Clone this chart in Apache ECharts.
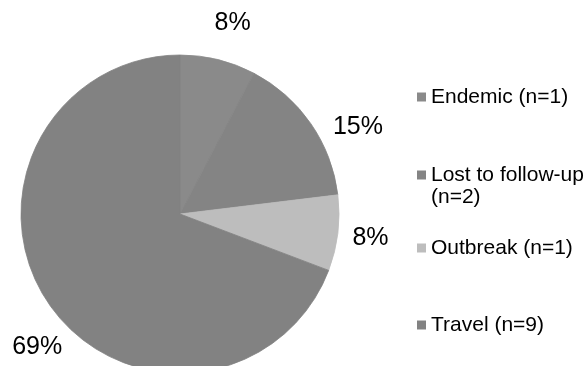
<!DOCTYPE html>
<html>
<head>
<meta charset="utf-8">
<script src="https://cdn.jsdelivr.net/npm/echarts@6/dist/echarts.min.js"></script>
<style>
  html, body { margin: 0; padding: 0; background: #fff; }
  #chart { width: 587px; height: 366px; }
</style>
</head>
<body>
<div id="chart"></div>
<script>
// Source of each case
const categories = ['Endemic', 'Lost to follow-up', 'Outbreak', 'Travel'];
const counts = [1, 2, 1, 9];
const sliceColors = ['#8a8a8a', '#848484', '#bdbdbd', '#828282'];

// Where each percentage label sits: angle clockwise from 12 o'clock (deg), distance from centre (px)
const labelAnchors = [[15.4, 198], [64, 198], [97.2, 192], [227.1, 195]];
// Vertical position of each legend entry (px from top)
const legendTops = [86, 164, 237, 314];

const CX = 180, CY = 214, R = 159;
const FONT = 'Liberation Sans, Arial, sans-serif';
const WRAPPED = 'Lost to follow-up';

const chart = echarts.init(document.getElementById('chart'), null, { renderer: 'canvas' });

const legendText = (name) => {
  const i = categories.indexOf(name);
  const sep = name === WRAPPED ? '\n' : ' ';
  return name + sep + '(n=' + counts[i] + ')';
};

// Two-line entry: the swatch stays beside the first line (square on top of a taller, empty box)
const topAlignedSquare = 'path://M0,0h9v9h-9Z M0,31L9,31';

const legends = categories.map((name, i) => {
  const wrapped = name === WRAPPED;
  return {
    data: [name],
    orient: 'vertical',
    left: 417,
    top: legendTops[i],
    padding: 0,
    icon: wrapped ? topAlignedSquare : 'rect',
    itemWidth: 9,
    itemHeight: wrapped ? 31 : 9,
    itemGap: 0,
    itemStyle: { borderWidth: 0 },
    selectedMode: false,
    formatter: legendText,
    textStyle: {
      fontFamily: FONT,
      fontSize: 21,
      lineHeight: 22,
      color: '#000'
    }
  };
});

chart.setOption({
  animation: false,
  backgroundColor: '#fff',
  legend: legends,
  series: [{
    type: 'pie',
    center: [CX, CY],
    radius: R,
    startAngle: 90,
    clockwise: true,
    avoidLabelOverlap: false,
    data: categories.map((name, i) => ({
      name: name,
      value: counts[i],
      itemStyle: { color: sliceColors[i], borderColor: sliceColors[i], borderWidth: 0.8 }
    })),
    label: {
      show: true,
      position: 'outside',
      formatter: (p) => Math.round(p.percent) + '%',
      fontFamily: FONT,
      fontSize: 25,
      color: '#000'
    },
    labelLine: { show: false },
    labelLayout: (p) => {
      const a = labelAnchors[p.dataIndex];
      const rad = a[0] * Math.PI / 180;
      return {
        x: CX + a[1] * Math.sin(rad),
        y: CY - a[1] * Math.cos(rad),
        align: 'center',
        verticalAlign: 'middle'
      };
    },
    emphasis: { disabled: true }
  }]
});
</script>
</body>
</html>
